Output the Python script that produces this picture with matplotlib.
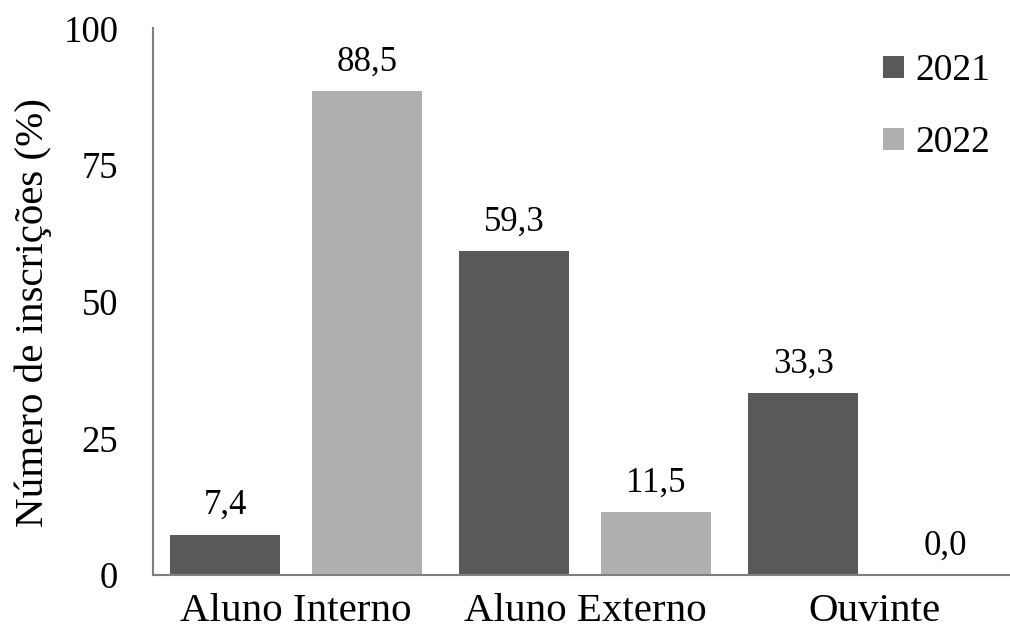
import numpy as np
import matplotlib
matplotlib.use("Agg")
import matplotlib.pyplot as plt

# Data
categories = ["Aluno Interno", "Aluno Externo", "Ouvinte"]
values_2021 = [7.4, 59.3, 33.3]
values_2022 = [88.5, 11.5, 0.0]
series_names = ["2021", "2022"]
y_ticks = [0, 25, 50, 75, 100]

plt.rcParams['font.family'] = ['Liberation Serif', 'DejaVu Serif']

dark = '#595959'
light = '#afafaf'
axis_col = '#7f7f7f'

fig = plt.figure(figsize=(10.10, 6.36), dpi=100)
ax = fig.add_axes([0.1515, 0.0959, 0.8485, 0.8595])

x = np.arange(len(categories))
width = 0.38
offset = 0.245

b1 = ax.bar(x - offset, values_2021, width, color=dark, label=series_names[0])
b2 = ax.bar(x + offset, values_2022, width, color=light, label=series_names[1])

for bars, vals in ((b1, values_2021), (b2, values_2022)):
    for rect, v in zip(bars, vals):
        ax.annotate(f"{v:.1f}".replace('.', ','),
                    xy=(rect.get_x() + rect.get_width() / 2, rect.get_height()),
                    xytext=(0, 9), textcoords='offset points',
                    ha='center', va='bottom', fontsize=25)

ax.set_xlim(-0.495, 2.47)
ax.set_ylim(0, 100)
ax.set_xticks(x)
ax.set_xticklabels(categories, fontsize=29.5)
ax.set_yticks(y_ticks)
ax.set_yticklabels([str(t) for t in y_ticks], fontsize=26.5)
ax.tick_params(axis='both', length=0)
ax.tick_params(axis='x', pad=13)
ax.tick_params(axis='y', pad=25)
ax.set_ylabel("Número de inscrições (%)", fontsize=29.5, labelpad=10)
ax.yaxis.set_label_coords(-0.118, 0.48)

for side in ('top', 'right'):
    ax.spines[side].set_visible(False)
for side in ('left', 'bottom'):
    ax.spines[side].set_color(axis_col)
    ax.spines[side].set_linewidth(1.5)

leg = ax.legend(loc='upper right', bbox_to_anchor=(1.016, 1.015), frameon=False,
                fontsize=27, handlelength=0.55, handleheight=0.55,
                handletextpad=0.3, labelspacing=1.0)

fig.savefig("out.png", dpi=100)
